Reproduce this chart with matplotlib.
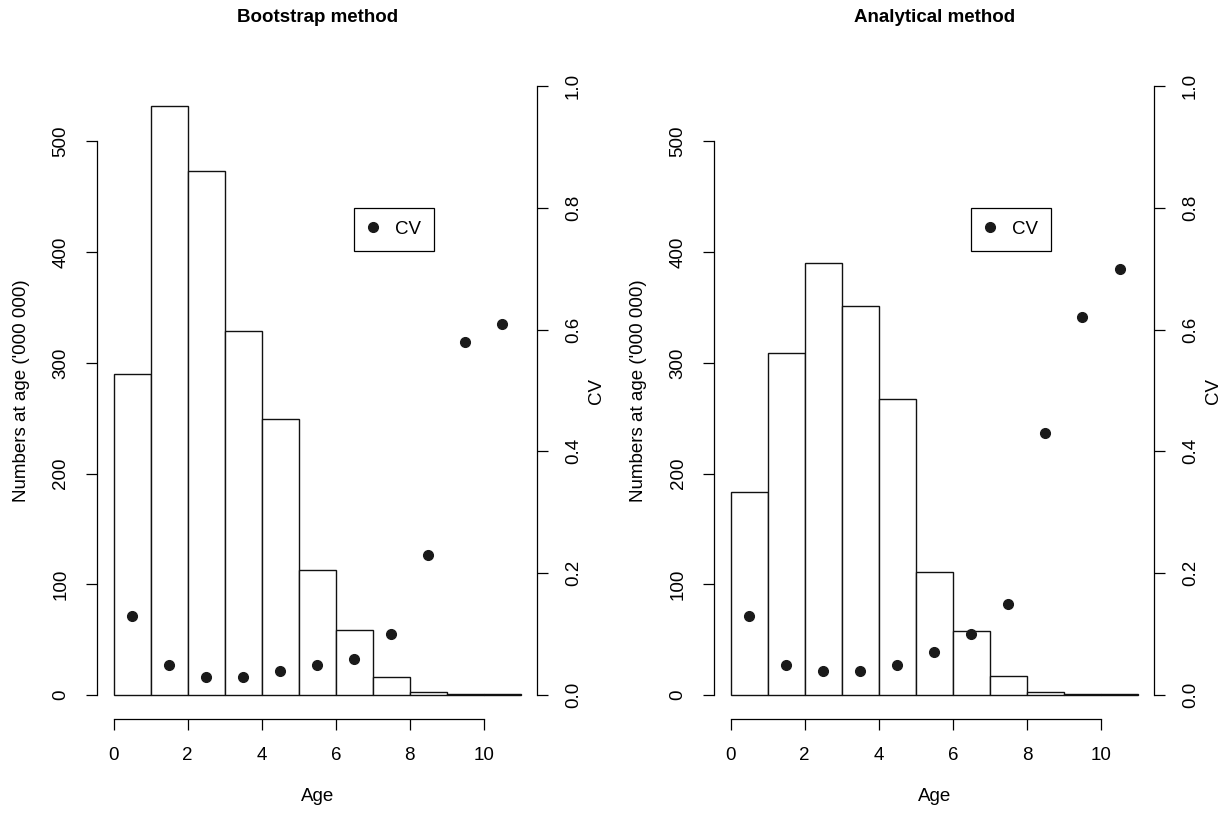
import numpy as np
import matplotlib
matplotlib.use("Agg")
import matplotlib.pyplot as plt

plt.rcParams['font.family'] = ['Liberation Sans', 'DejaVu Sans']

# Data
ages = np.arange(11)
boot_numbers = [290, 532, 473, 329, 249, 113, 59, 16, 3, 0.6, 0.5]
boot_cv = [0.13, 0.05, 0.03, 0.03, 0.04, 0.05, 0.06, 0.10, 0.23, 0.58, 0.61]
anal_numbers = [183, 309, 390, 351, 267, 111, 58, 17, 3, 0.6, 0.5]
anal_cv = [0.13, 0.05, 0.04, 0.04, 0.05, 0.07, 0.10, 0.15, 0.43, 0.62, 0.70]
titles = ["Bootstrap method", "Analytical method"]

fs = 13.5
W, H = 1225, 814
fig = plt.figure(figsize=(W / 100, H / 100), dpi=100)


def panel(left, numbers, cv, title):
    ax = fig.add_axes([left, 0.1162, 0.3592, 0.8081])
    ax.bar(ages, numbers, width=1, align='edge', color='white',
           edgecolor='#111111', linewidth=1.0)
    ax.set_xlim(-0.44, 11.44)
    ax.set_ylim(-22, 572)
    for s in ['top', 'right']:
        ax.spines[s].set_visible(False)
    ax.spines['left'].set_bounds(0, 500)
    ax.spines['bottom'].set_bounds(0, 10)
    ax.set_xticks([0, 2, 4, 6, 8, 10])
    ax.set_yticks([0, 100, 200, 300, 400, 500])
    ax.tick_params(axis='both', direction='out', length=8, width=0.9,
                   labelsize=fs, pad=12)
    for lab in ax.get_yticklabels():
        lab.set_rotation(90)
        lab.set_va('center')
    ax.set_xlabel("Age", fontsize=fs, labelpad=17)
    ax.set_ylabel("Numbers at age ('000 000)", fontsize=fs, labelpad=16)
    # title placed in figure pixels
    fig.text(left + 0.3592 / 2, 1 - 18 / H, title, fontsize=fs,
             fontweight='bold', ha='center', va='center')

    ax2 = ax.twinx()
    ax2.plot(ages + 0.5, cv, 'o', color='#1a1a1a', markersize=7, label='CV')
    ax2.set_ylim(-0.04, 1.04)
    for s in ['top', 'left', 'bottom']:
        ax2.spines[s].set_visible(False)
    ax2.spines['right'].set_bounds(0, 1)
    ax2.set_yticks([0.0, 0.2, 0.4, 0.6, 0.8, 1.0])
    ax2.set_yticklabels(["0.0", "0.2", "0.4", "0.6", "0.8", "1.0"])
    ax2.tick_params(axis='y', direction='out', length=8, width=0.9,
                    labelsize=fs, pad=12)
    for lab in ax2.get_yticklabels():
        lab.set_rotation(90)
        lab.set_va('center')
    ax2.set_ylabel("CV", fontsize=fs, labelpad=4)
    for a in (ax, ax2):
        for sp in a.spines.values():
            sp.set_linewidth(0.9)
    leg = ax2.legend(loc='upper left', bbox_to_anchor=(6.5, 0.8),
                     bbox_transform=ax2.transData, fontsize=fs,
                     fancybox=False, edgecolor='black', framealpha=1,
                     borderpad=0.7, handletextpad=0.85, handlelength=0.6,
                     borderaxespad=0)
    leg.get_frame().set_linewidth(0.9)


panel(0.0794, boot_numbers, boot_cv, titles[0])
panel(0.5831, anal_numbers, anal_cv, titles[1])

fig.savefig("out.png", dpi=100)
